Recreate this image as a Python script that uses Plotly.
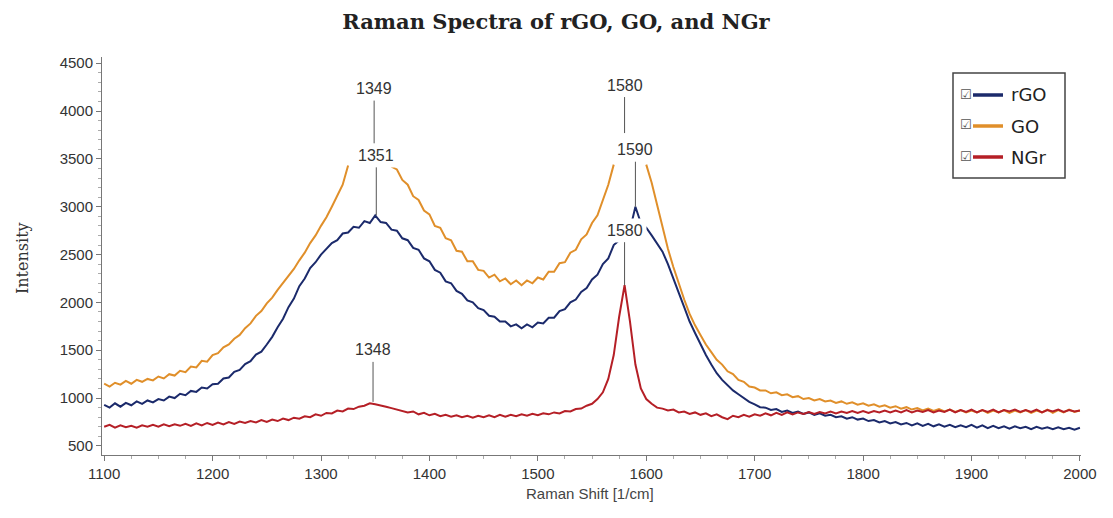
import plotly.graph_objects as go

# ---------------- data ----------------
shift = list(range(1100, 2001, 5))  # Raman shift sampling grid [1/cm]

rgo = [
    930, 900, 945, 910, 950, 925, 965, 940, 975, 955,          # 1100-1145
    990, 975, 1015, 1000, 1045, 1030, 1075, 1065, 1110, 1100,  # 1150-1195
    1145, 1150, 1205, 1215, 1275, 1295, 1355, 1385, 1455, 1485,  # 1200
    1560, 1640, 1740, 1830, 1950, 2040, 2170, 2250, 2360, 2420,  # 1250
    2500, 2560, 2620, 2650, 2720, 2730, 2790, 2780, 2850, 2830,  # 1300
    2910, 2840, 2830, 2760, 2750, 2670, 2650, 2570, 2550, 2460,  # 1350
    2430, 2340, 2310, 2220, 2200, 2120, 2090, 2020, 2000, 1940,  # 1400
    1920, 1860, 1850, 1800, 1800, 1750, 1770, 1730, 1770, 1740,  # 1450
    1790, 1780, 1840, 1840, 1910, 1930, 2000, 2030, 2110, 2150,  # 1500
    2240, 2290, 2400, 2460, 2600, 2650, 2720, 2760, 3000, 2830,  # 1550
    2780, 2700, 2620, 2530, 2400, 2260, 2100, 1950, 1800, 1680,  # 1600
    1560, 1450, 1350, 1260, 1190, 1130, 1080, 1040, 1000, 960,   # 1650
    935, 905, 900, 875, 885, 855, 870, 845, 860, 835,            # 1700
    850, 825, 840, 815, 825, 800, 810, 785, 800, 775,            # 1750
    785, 760, 770, 745, 760, 735, 750, 725, 740, 715,            # 1800
    735, 710, 730, 705, 725, 700, 720, 695, 715, 695,            # 1850
    720, 690, 715, 685, 710, 685, 705, 680, 705, 685,            # 1900
    700, 675, 700, 680, 695, 675, 695, 675, 690, 670,            # 1950
    690,                                                         # 2000
]

# GO is saturated (not drawn) around both band maxima
go_ = [
    1150, 1120, 1160, 1140, 1180, 1150, 1190, 1170, 1200, 1185,  # 1100
    1225, 1205, 1250, 1235, 1285, 1270, 1330, 1320, 1390, 1380,  # 1150
    1450, 1470, 1530, 1560, 1620, 1660, 1730, 1780, 1860, 1910,  # 1200
    1990, 2050, 2130, 2200, 2280, 2350, 2440, 2520, 2620, 2700,  # 1250
    2800, 2890, 3000, 3110, 3230, 3430, None, None, None, None,  # 1300
    None, None, None, 3420, 3390, 3280, 3230, 3110, 3070, 2960,  # 1350
    2920, 2800, 2780, 2670, 2650, 2540, 2530, 2430, 2430, 2340,  # 1400
    2330, 2260, 2290, 2220, 2250, 2190, 2230, 2180, 2230, 2200,  # 1450
    2260, 2240, 2320, 2320, 2410, 2420, 2520, 2550, 2660, 2710,  # 1500
    2830, 2910, 3060, 3230, 3440, None, None, None, None, None,  # 1550
    3440, 3250, 3020, 2790, 2560, 2370, 2190, 2030, 1880, 1760,  # 1600
    1660, 1560, 1480, 1400, 1350, 1280, 1250, 1190, 1170, 1120,  # 1650
    1110, 1080, 1080, 1050, 1060, 1030, 1040, 1010, 1020, 990,   # 1700
    1000, 975, 990, 965, 975, 950, 965, 940, 955, 930,           # 1750
    945, 920, 935, 910, 925, 900, 915, 890, 905, 880,            # 1800
    895, 870, 890, 865, 885, 860, 880, 855, 875, 850,            # 1850
    870, 850, 875, 845, 870, 850, 875, 845, 870, 850,            # 1900
    875, 845, 870, 850, 880, 845, 875, 850, 880, 855,            # 1950
    870,                                                         # 2000
]

ngr = [
    700, 720, 690, 715, 695, 710, 690, 715, 700, 720,            # 1100
    700, 725, 705, 725, 710, 730, 710, 735, 715, 740,            # 1150
    720, 745, 725, 750, 730, 755, 740, 760, 745, 770,            # 1200
    750, 775, 760, 785, 770, 795, 785, 810, 800, 830,            # 1250
    815, 845, 840, 870, 860, 890, 885, 910, 920, 945,            # 1300
    935, 925, 910, 895, 880, 870, 850, 860, 830, 845,            # 1350
    820, 835, 810, 825, 805, 820, 800, 815, 795, 815,            # 1400
    800, 820, 800, 825, 805, 825, 810, 830, 815, 835,            # 1450
    820, 840, 830, 850, 840, 865, 860, 885, 890, 920,            # 1500
    940, 990, 1060, 1200, 1450, 1850, 2180, 1800, 1350, 1100,    # 1550
    990, 940, 900, 890, 870, 880, 850, 860, 835, 850,            # 1600
    825, 840, 810, 830, 800, 780, 815, 800, 825, 805,            # 1650
    830, 815, 840, 820, 845, 825, 850, 830, 850, 835,            # 1700
    855, 835, 855, 840, 860, 840, 860, 845, 865, 845,            # 1750
    865, 845, 865, 850, 870, 850, 870, 850, 875, 850,            # 1800
    870, 855, 875, 850, 870, 855, 880, 850, 875, 855,            # 1850
    880, 850, 875, 855, 880, 850, 875, 860, 880, 855,            # 1900
    875, 855, 880, 850, 875, 860, 880, 855, 875, 860,            # 1950
    870,                                                         # 2000
]

series_names = ["rGO", "GO", "NGr"]
series_colors = ["#1b2a6b", "#e08f2a", "#b51f26"]

# peak labels: (label, shift, intensity, label offset px)
peak_labels = ["1349", "1351", "1580", "1590", "1580", "1348"]
peak_shift = [1349, 1351, 1580, 1590, 1580, 1348]
peak_int = [3660, 2910, 3770, 3000, 2180, 960]
peak_offset = [-55, -60, -48, -57, -55, -52]

x_ticks = [1100, 1200, 1300, 1400, 1500, 1600, 1700, 1800, 1900, 2000]
y_ticks = [500, 1000, 1500, 2000, 2500, 3000, 3500, 4000, 4500]

assert len(rgo) == len(shift) and len(go_) == len(shift) and len(ngr) == len(shift)

# ---------------- figure ----------------
fig = go.Figure()
values = {"rGO": rgo, "GO": go_, "NGr": ngr}
for name, col in zip(["GO", "rGO", "NGr"], [series_colors[1], series_colors[0], series_colors[2]]):
    fig.add_trace(go.Scatter(
        x=shift, y=values[name], mode="lines", name=name,
        line=dict(color=col, width=2), connectgaps=False, showlegend=False,
    ))

# page has an 8px body margin: compensate so the plot lands where the reference has it
OFF = 8
PAGE_W, PAGE_H = 1113, 518
PL, PR, PT, PB = 102, 1081, 57, 455          # plot-area edges in page pixels
W, H = PAGE_W - OFF, PAGE_H - OFF
L, T = PL - OFF, PT - OFF
R = W - (PR - OFF)
B = H - (PB - OFF)
PW, PH = PR - PL, PB - PT

def px(xp):
    return (xp - PL) / PW

def py(yp):
    return (PB - yp) / PH

annotations = []
for lab, xs, yi, off in zip(peak_labels, peak_shift, peak_int, peak_offset):
    annotations.append(dict(
        x=xs, y=yi, xref="x", yref="y", text=lab, showarrow=True,
        arrowhead=0, arrowwidth=1, arrowcolor="#555555", ax=0, ay=off,
        font=dict(family="Liberation Sans", size=16, color="#333333"),
        bgcolor="white", borderpad=3,
    ))

# axis titles
annotations.append(dict(
    x=px(22), y=py(258), xref="paper", yref="paper", text="Intensity",
    textangle=-90, showarrow=False, xanchor="center", yanchor="middle",
    font=dict(family="DejaVu Serif", size=16, color="#333333"),
))
annotations.append(dict(
    x=px(590), y=py(493), xref="paper", yref="paper", text="Raman Shift [1/cm]",
    showarrow=False, xanchor="center", yanchor="middle",
    font=dict(family="Liberation Sans", size=15, color="#444444"),
))

# manual legend
shapes = [dict(
    type="rect", xref="paper", yref="paper",
    x0=px(953), x1=px(1065), y0=py(178), y1=py(73),
    line=dict(color="#444444", width=1.5), fillcolor="white", layer="above",
)]
legend_y = [95, 126, 157]
for name, col, ly in zip(series_names, series_colors, legend_y):
    shapes.append(dict(
        type="line", xref="paper", yref="paper",
        x0=px(973), x1=px(1003), y0=py(ly), y1=py(ly),
        line=dict(color=col, width=3.5), layer="above",
    ))
    annotations.append(dict(
        x=px(966), y=py(ly - 1), xref="paper", yref="paper", text="☑",
        showarrow=False, xanchor="center", yanchor="middle",
        font=dict(family="DejaVu Sans", size=13, color="#555555"),
    ))
    annotations.append(dict(
        x=px(1009), y=py(ly), xref="paper", yref="paper", text=name,
        showarrow=False, xanchor="left", yanchor="middle",
        font=dict(family="DejaVu Sans", size=18, color="#222222"),
    ))

fig.update_layout(
    width=W, height=H,
    margin=dict(l=L, r=R, t=T, b=B, pad=0, autoexpand=False),
    paper_bgcolor="white", plot_bgcolor="white",
    title=dict(
        text="<b>Raman Spectra of rGO, GO, and NGr</b>",
        x=(556 - OFF) / W, xref="container", xanchor="center",
        y=1 - (22 - OFF) / H, yref="container", yanchor="middle",
        font=dict(family="DejaVu Serif", size=21, color="#222222"),
    ),
    xaxis=dict(
        range=[1098, 2001], tickvals=x_ticks, ticktext=[str(v) for v in x_ticks],
        showgrid=False, zeroline=False, showline=True, linecolor="#777777", linewidth=1,
        ticks="outside", ticklen=5, tickcolor="#777777",
        minor=dict(dtick=25, tick0=1100, ticks="outside", ticklen=3, tickcolor="#aaaaaa"),
        tickfont=dict(family="Liberation Sans", size=15, color="#333333"),
    ),
    yaxis=dict(
        range=[405, 4565], tickvals=y_ticks, ticktext=[str(v) for v in y_ticks],
        showgrid=False, zeroline=False, showline=True, linecolor="#777777", linewidth=1,
        ticks="outside", ticklen=5, tickcolor="#777777",
        minor=dict(dtick=100, tick0=500, ticks="outside", ticklen=3, tickcolor="#aaaaaa"),
        tickfont=dict(family="Liberation Sans", size=15, color="#333333"),
    ),
    annotations=annotations,
    shapes=shapes,
)

fig.write_html("out.html")
